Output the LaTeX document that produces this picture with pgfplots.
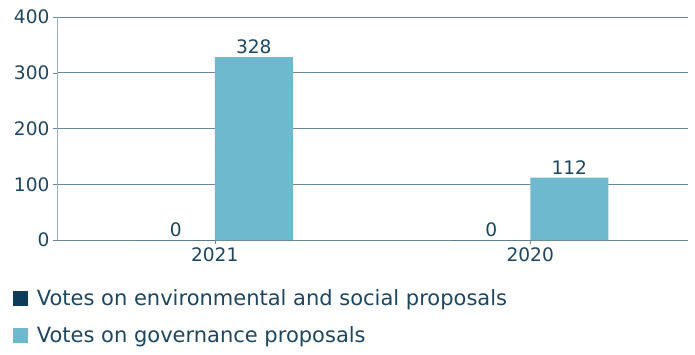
\documentclass[border=0pt]{standalone}
\usepackage{pgfplots}
\pgfplotsset{compat=1.18}
\usepackage{fontspec}
\setmainfont{DejaVu Sans}
\definecolor{txt}{HTML}{1D4661}
\definecolor{darkbar}{HTML}{0E3B5A}
\definecolor{lightbar}{HTML}{6FB9CF}
\definecolor{gridc}{HTML}{6A8699}
\definecolor{yaxc}{HTML}{9AAEBC}
\begin{document}
\begin{tikzpicture}
\path[use as bounding box] (-57pt,-114pt) rectangle (638pt,240pt);
\begin{axis}[
    at={(0pt,0pt)}, anchor=south west,
    scale only axis,
    width=631pt, height=223pt,
    ybar,
    xmin=-0.5, xmax=1.5,
    ymin=0, ymax=400,
    xtick={0,1}, xticklabels={2021,2020},
    ytick={0,100,200,300,400},
    axis x line=bottom, axis y line=left,
    axis line style={-},
    x axis line style={gridc},
    y axis line style={yaxc},
    ymajorgrids,
    grid style={gridc, line width=0.8pt},
    tick align=outside,
    major tick length=4pt,
    tick style={gridc},
    every tick label/.append style={font=\fontsize{18.6}{22}\selectfont, text=txt},
    /pgf/number format/assume math mode=true,
    nodes near coords,
    every node near coord/.append style={font=\fontsize{18.6}{22}\selectfont, text=txt},
    legend style={at={(-0.075,-0.205)}, anchor=north west, draw=none, fill=none,
        font=\fontsize{21}{25}\selectfont, text=txt,
        row sep=15pt,
        /tikz/every odd column/.style={column sep=7pt}},
    legend cell align=left,
    legend image code/.code={\fill[#1] (0pt,-7.5pt) rectangle (15pt,7.5pt);},
]
\addplot[fill=darkbar, draw=none, bar width=78pt, bar shift=-39pt] coordinates {(0,0) (1,0)};
\addlegendentry{Votes on environmental and social proposals}
\addplot[fill=lightbar, draw=none, bar width=78pt, bar shift=39pt] coordinates {(0,328) (1,112)};
\addlegendentry{Votes on governance proposals}
\end{axis}
\end{tikzpicture}
\end{document}
